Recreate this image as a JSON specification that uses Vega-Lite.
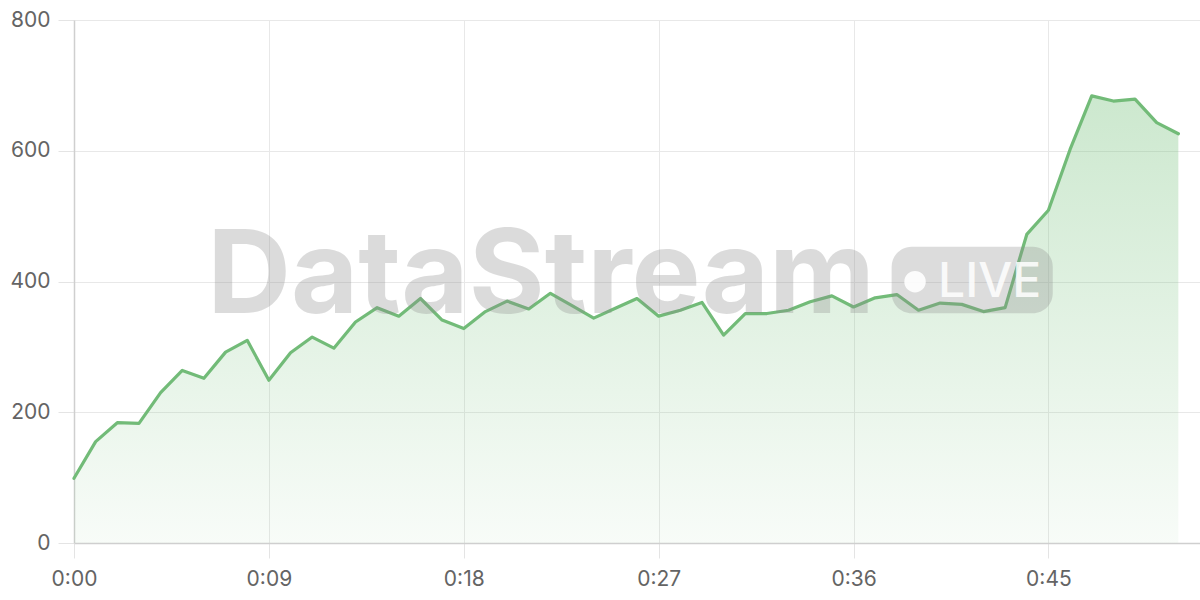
{
  "$schema": "https://vega.github.io/schema/vega-lite/v6.json",
  "width": 1126,
  "height": 523,
  "autosize": {"type": "none"},
  "padding": {"left": 74, "top": 20, "right": 0, "bottom": 57},
  "background": "white",
  "config": {
    "view": {"stroke": null},
    "font": "Inter",
    "axis": {
      "labelFont": "Inter",
      "labelFontSize": 21,
      "labelColor": "#646464",
      "gridColor": "#e8e8e8",
      "gridWidth": 1,
      "tickColor": "#e4e4e4",
      "tickSize": 15,
      "domainColor": "#cfcfcf",
      "domainWidth": 1.5,
      "title": null
    }
  },
  "datasets": {
    "series": [
      {"t": 0, "v": 99}, {"t": 1, "v": 155}, {"t": 2, "v": 184}, {"t": 3, "v": 183},
      {"t": 4, "v": 230}, {"t": 5, "v": 264}, {"t": 6, "v": 252}, {"t": 7, "v": 292},
      {"t": 8, "v": 310}, {"t": 9, "v": 249}, {"t": 10, "v": 291}, {"t": 11, "v": 315},
      {"t": 12, "v": 298}, {"t": 13, "v": 338}, {"t": 14, "v": 360}, {"t": 15, "v": 347},
      {"t": 16, "v": 374}, {"t": 17, "v": 341}, {"t": 18, "v": 328}, {"t": 19, "v": 354},
      {"t": 20, "v": 370}, {"t": 21, "v": 358}, {"t": 22, "v": 382}, {"t": 23, "v": 363},
      {"t": 24, "v": 344}, {"t": 25, "v": 359}, {"t": 26, "v": 374}, {"t": 27, "v": 347},
      {"t": 28, "v": 356}, {"t": 29, "v": 368}, {"t": 30, "v": 318}, {"t": 31, "v": 351},
      {"t": 32, "v": 351}, {"t": 33, "v": 356}, {"t": 34, "v": 369}, {"t": 35, "v": 378},
      {"t": 36, "v": 361}, {"t": 37, "v": 375}, {"t": 38, "v": 380}, {"t": 39, "v": 356},
      {"t": 40, "v": 367}, {"t": 41, "v": 365}, {"t": 42, "v": 354}, {"t": 43, "v": 360},
      {"t": 44, "v": 472}, {"t": 45, "v": 509}, {"t": 46, "v": 602}, {"t": 47, "v": 684},
      {"t": 48, "v": 676}, {"t": 49, "v": 679}, {"t": 50, "v": 643}, {"t": 51, "v": 626}
    ]
  },
  "layer": [
    {
      "data": {"name": "series"},
      "mark": {
        "type": "area",
        "color": {
          "gradient": "linear",
          "x1": 0, "y1": 0, "x2": 0, "y2": 1,
          "stops": [
            {"offset": 0, "color": "rgba(114,191,120,0.36)"},
            {"offset": 1, "color": "rgba(114,191,120,0.05)"}
          ]
        }
      },
      "encoding": {
        "x": {
          "field": "t",
          "type": "quantitative",
          "scale": {"domain": [0, 52], "nice": false, "zero": false},
          "axis": {
            "values": [0, 9, 18, 27, 36, 45],
            "labelExpr": "floor(datum.value / 60) + ':' + (datum.value % 60 < 10 ? '0' : '') + (datum.value % 60)",
            "labelPadding": 10,
            "labelFlush": false
          }
        },
        "y": {
          "field": "v",
          "type": "quantitative",
          "scale": {"domain": [0, 800], "nice": false},
          "axis": {
            "values": [0, 200, 400, 600, 800],
            "tickSize": 16,
            "labelPadding": 8
          }
        }
      }
    },
    {
      "data": {"name": "series"},
      "mark": {"type": "line", "color": "#72bb78", "strokeWidth": 3.2, "strokeJoin": "round", "strokeCap": "round"},
      "encoding": {
        "x": {"field": "t", "type": "quantitative"},
        "y": {"field": "v", "type": "quantitative"}
      }
    },
    {
      "data": {"values": [{"label": "DataStream"}]},
      "mark": {
        "type": "text",
        "font": "Inter",
        "fontWeight": "bold",
        "fontSize": 116,
        "align": "center",
        "baseline": "alphabetic",
        "color": "#8c8c8c",
        "opacity": 0.3
      },
      "encoding": {
        "text": {"field": "label"},
        "x": {"datum": 21.57, "type": "quantitative"},
        "y": {"datum": 351.8, "type": "quantitative"}
      }
    },
    {
      "data": {"values": [{"label": "pill"}]},
      "mark": {"type": "rect", "color": "#8c8c8c", "opacity": 0.3, "cornerRadius": 20},
      "encoding": {
        "x": {"datum": 37.76, "type": "quantitative"},
        "x2": {"datum": 45.2},
        "y": {"datum": 453.2, "type": "quantitative"},
        "y2": {"datum": 351.4}
      }
    },
    {
      "data": {"values": [{"label": "dot"}]},
      "mark": {"type": "point", "shape": "circle", "filled": true, "color": "white", "opacity": 0.9, "size": 460},
      "encoding": {
        "x": {"datum": 38.84, "type": "quantitative"},
        "y": {"datum": 399.7, "type": "quantitative"}
      }
    },
    {
      "data": {"values": [{"label": "LIVE"}]},
      "mark": {
        "type": "text",
        "font": "Inter",
        "fontWeight": 500,
        "fontSize": 48,
        "align": "left",
        "baseline": "alphabetic",
        "color": "white",
        "opacity": 0.85
      },
      "encoding": {
        "text": {"field": "label"},
        "x": {"datum": 39.9, "type": "quantitative"},
        "y": {"datum": 376.7, "type": "quantitative"}
      }
    }
  ]
}
